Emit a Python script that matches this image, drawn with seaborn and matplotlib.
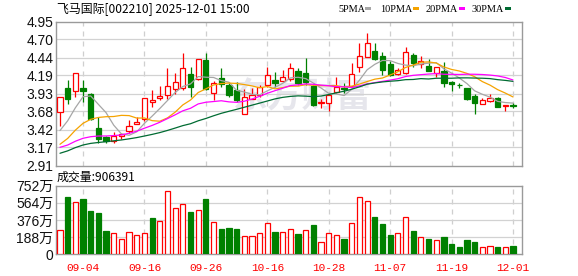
import numpy as np
import pandas as pd
import matplotlib
matplotlib.use("Agg")
import matplotlib.pyplot as plt
from matplotlib.patches import Rectangle
import seaborn as sns

# ---------------- data ----------------
dates = ["09-01","09-02","09-03","09-04","09-05","09-08","09-09","09-10","09-11","09-12",
         "09-15","09-16","09-17","09-18","09-19","09-22","09-23","09-24","09-25","09-26",
         "09-29","09-30","10-09","10-10","10-13","10-14","10-15","10-16","10-17","10-20",
         "10-21","10-22","10-23","10-24","10-27","10-28","10-29","10-30","10-31","11-03",
         "11-04","11-05","11-06","11-07","11-10","11-11","11-12","11-13","11-14","11-17",
         "11-18","11-19","11-20","11-21","11-24","11-25","11-26","11-27","11-28","12-01"]

open_ = [3.665,4.005,3.960,4.010,3.925,3.439,3.316,3.259,3.335,3.396,
         3.495,3.571,3.807,3.873,3.906,3.991,4.005,4.208,4.133,4.407,
         3.934,4.147,4.052,3.982,3.637,3.859,3.906,4.048,4.123,4.114,
         4.133,4.255,4.227,4.038,3.793,3.802,3.958,4.015,4.038,4.303,
         4.444,4.534,4.463,4.345,4.208,4.227,4.477,4.350,4.322,4.227,
         4.255,4.095,4.057,4.005,3.897,3.783,3.830,3.864,3.755,3.765]
close = [3.878,3.849,4.218,3.972,3.566,3.283,3.264,3.330,3.354,3.472,
         3.528,3.864,3.840,3.892,4.038,4.095,4.289,4.019,4.416,3.991,
         4.076,4.067,3.906,3.840,3.878,3.906,4.029,4.194,4.086,4.161,
         4.289,4.076,4.100,3.769,3.812,3.911,4.029,3.991,4.208,4.463,
         4.643,4.416,4.265,4.194,4.265,4.525,4.369,4.388,4.255,4.303,
         4.086,4.067,4.048,3.854,3.793,3.840,3.868,3.746,3.769,3.755]
high = [3.885,4.123,4.225,4.123,3.944,3.595,3.330,3.392,3.377,3.557,
        3.595,3.864,3.982,4.038,4.289,4.218,4.510,4.312,4.416,4.510,
        4.109,4.289,4.076,4.100,3.991,4.005,4.052,4.312,4.241,4.265,
        4.359,4.289,4.430,4.052,3.849,3.934,4.171,4.076,4.369,4.643,
        4.794,4.652,4.525,4.397,4.289,4.595,4.510,4.463,4.416,4.303,
        4.383,4.109,4.086,4.005,3.925,3.864,3.925,3.878,3.769,3.802]
low = [3.472,3.783,3.875,3.816,3.557,3.226,3.236,3.236,3.288,3.368,
       3.495,3.543,3.745,3.840,3.854,3.925,3.982,3.887,4.123,3.982,
       3.840,4.029,3.878,3.816,3.637,3.859,3.878,4.029,4.029,4.100,
       4.114,4.052,4.052,3.755,3.722,3.689,3.934,3.934,4.038,4.241,
       4.444,4.407,4.194,4.180,4.194,4.208,4.303,4.289,4.255,4.161,
       4.019,3.972,4.015,3.840,3.642,3.783,3.812,3.736,3.689,3.722]
# volume in 万 (10k)
volume_wan = [263,628,570,602,475,453,256,230,164,241,
              208,230,398,361,690,504,551,464,482,606,
              350,277,288,277,197,197,230,343,245,245,
              274,223,263,321,135,234,208,168,343,624,
              580,409,332,212,234,405,256,186,168,153,
              190,113,80,157,139,77,88,80,77,90.6]
# estimated closes of the 29 sessions before 09-01 (only feed the moving averages)
pre_close = [2.83,2.84,2.86,2.88,2.90,2.93,2.96,2.99,3.00,2.99,
             3.20,3.15,3.13,3.12,3.09,3.25,3.22,3.17,3.00,2.94,
             3.02,3.05,3.00,3.00,3.02,3.16,3.30,3.19,3.51]

price_ticks = [2.91, 3.17, 3.42, 3.68, 3.93, 4.19, 4.44, 4.70, 4.95]
price_tick_labels = ["2.91","3.17","3.42","3.68","3.93","4.19","4.44","4.70","4.95"]
vol_ticks = [0, 188, 376, 564, 752]
vol_tick_labels = ["0","188万","376万","564万","752万"]
tick_dates = ["09-04","09-16","09-26","10-16","10-28","11-07","11-19","12-01"]
title_text = "飞马国际[002210] 2025-12-01 15:00"
vol_title = "成交量:906391"
ma_names = ["5PMA", "10PMA", "20PMA", "30PMA"]
ma_windows = [5, 10, 20, 30]

# ---------------- style ----------------
sns.set_style("white")
plt.rcParams['font.family'] = ['Liberation Sans', 'Noto Sans CJK SC', 'DejaVu Sans']

RED = "#ff0000"
GREEN = "#008000"
MA_COLORS = ["#a6a6a6", "#f5a300", "#ff00ff", "#006b32"]
GRID = "#d2d2d2"
FRAME = "#9a9a9a"

W, H = 578, 276
fig = plt.figure(figsize=(W / 100, H / 100), dpi=100)

def ax_rect(l, t, r, b):
    return [l / W, 1 - b / H, (r - l) / W, (b - t) / H]

ax = fig.add_axes(ax_rect(56, 21.5, 522, 165.7))
axv = fig.add_axes(ax_rect(56, 185.7, 522, 254.3))

n = len(dates)
x = np.arange(n)
xlim = (-0.52, n - 1 + 1.17)
tick_pos = [dates.index(d) for d in tick_dates]

all_close = pd.Series(pre_close + close)
df = pd.DataFrame({"x": x, "date": dates})
for name, w in zip(ma_names, ma_windows):
    df[name] = all_close.rolling(w).mean().iloc[len(pre_close):].to_numpy()

# watermark
ax.text(0.528, 0.483, "东方财富", transform=ax.transAxes, ha="center", va="center",
        fontsize=25, fontweight="bold", color="#e6e6ec", family=["Noto Sans CJK SC"], zorder=0)

bw = 0.68
for i in range(n):
    o, c, h, l = open_[i], close[i], high[i], low[i]
    up = c >= o
    col = RED if up else GREEN
    ax.vlines(i, l, h, color=col, lw=0.9, zorder=2)
    bottom = min(o, c)
    height = max(abs(c - o), 0.001)
    ax.add_patch(Rectangle((i - bw / 2, bottom), bw, height,
                           facecolor="white" if up else GREEN, edgecolor=col,
                           lw=0.9, zorder=3))

for name, col in zip(ma_names, MA_COLORS):
    sns.lineplot(data=df, x="x", y=name, ax=ax, color=col, lw=0.9, zorder=4, legend=False)

prev = [pre_close[-1]] + close[:-1]
for i in range(n):
    up = close[i] >= prev[i]
    col = RED if up else GREEN
    axv.add_patch(Rectangle((i - bw / 2, 0), bw, volume_wan[i],
                            facecolor="white" if up else GREEN, edgecolor=col,
                            lw=0.9, zorder=3))

for a in (ax, axv):
    a.set_xlim(*xlim)
    a.set_xlabel("")
    a.set_ylabel("")
    for s in a.spines.values():
        s.set_color(FRAME)
        s.set_linewidth(1.0)
        s.set_visible(True)
    a.set_xticks(tick_pos)
    a.tick_params(length=0)
    for p in tick_pos:
        a.axvline(p, color="#cfcfcf", lw=0.9, ls=(0, (4, 4)), zorder=1)

ax.set_ylim(2.91, 4.95)
ax.set_yticks(price_ticks)
ax.set_yticklabels(price_tick_labels, fontsize=10, color="#111111")
ax.set_xticklabels([])
for v in price_ticks[1:-1]:
    ax.axhline(v, color=GRID, lw=0.9, zorder=1)
ax.tick_params(axis="y", pad=2)

axv.set_ylim(0, 752)
axv.set_yticks(vol_ticks)
axv.set_yticklabels(vol_tick_labels, fontsize=10, color="#111111")
for v in vol_ticks[1:-1]:
    axv.axhline(v, color=GRID, lw=0.9, zorder=1)
axv.tick_params(axis="y", pad=2)
axv.set_xticklabels(tick_dates, color=RED, fontsize=8, family=["Liberation Mono"])
axv.tick_params(axis="x", pad=6)

# titles
fig.text(57 / W, 1 - 9.5 / H, title_text, ha="left", va="center", fontsize=8.6,
         family=["Noto Sans CJK SC"], color="black")
fig.text(57 / W, 1 - 177.5 / H, vol_title, ha="left", va="center", fontsize=8.6,
         family=["Noto Sans CJK SC"], color="black")

# legend
leg_text_x = [338, 380, 426, 472]
leg_box_x = [365, 413, 459, 505]
for name, col, tx, bx in zip(ma_names, MA_COLORS, leg_text_x, leg_box_x):
    fig.text(tx / W, 1 - 9 / H, name, ha="left", va="center", fontsize=7.4,
             family=["Liberation Serif"], color="black")
    fig.patches.append(Rectangle((bx / W, 1 - 10.3 / H), 6 / W, 3.2 / H,
                                 transform=fig.transFigure, facecolor=col,
                                 edgecolor="none"))

fig.savefig("out.png", dpi=100)
